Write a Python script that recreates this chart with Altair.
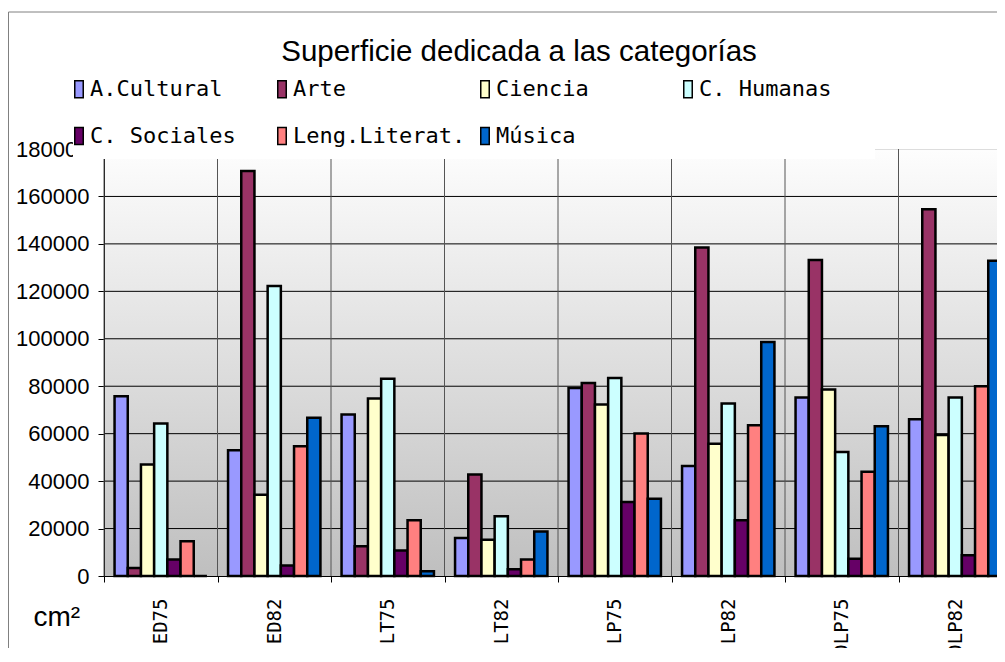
import altair as alt
import pandas as pd

# ---- data ----
groups = ["ED75", "ED82", "LT75", "LT82", "LP75", "LP82", "DLP75", "DLP82"]
series = ["A.Cultural", "Arte", "Ciencia", "C. Humanas", "C. Sociales", "Leng.Literat.", "Música"]
colors = ["#9999FF", "#993366", "#FFFFCC", "#CCFFFF", "#660066", "#FF8080", "#0066CC"]

a_cultural = [75800, 53000, 68100, 16000, 79300, 46400, 75200, 66100]
arte = [3400, 170700, 12500, 42800, 81400, 138500, 133200, 154600]
ciencia = [47000, 34300, 74800, 15300, 72300, 55800, 78600, 59400]
c_humanas = [64300, 122200, 83100, 25200, 83500, 72700, 52300, 75200]
c_sociales = [7000, 4400, 10800, 2800, 31200, 23500, 7300, 8700]
leng_literat = [14600, 54700, 23500, 7000, 60100, 63600, 43900, 80000]
musica = [0, 66700, 2000, 18800, 32600, 98600, 63100, 132900]

y_ticks = [0, 20000, 40000, 60000, 80000, 100000, 120000, 140000, 160000, 180000]
grid_values = [20000, 40000, 60000, 80000, 100000, 120000, 140000, 160000]

title_text = "Superficie dedicada a las categorías"
unit_text = "cm²"

values_by_series = [a_cultural, arte, ciencia, c_humanas, c_sociales, leng_literat, musica]
rows = []
for s, vals in zip(series, values_by_series):
    for g, v in zip(groups, vals):
        rows.append({"Grupo": g, "Serie": s, "Valor": v})
df = pd.DataFrame(rows)
df_groups = pd.DataFrame({"Grupo": groups})
df_grid = pd.DataFrame({"Valor": grid_values})
df_one = pd.DataFrame({"k": [0]})

SANS = "Liberation Sans"
MONO = "DejaVu Sans Mono"

W = 908
H = 427

x_scale = alt.Scale(domain=groups, paddingInner=0, paddingOuter=0)
y_scale = alt.Scale(domain=[0, 180000], nice=False)

frame = alt.Chart(df_one).mark_rect(filled=False, stroke="#808080", strokeWidth=1).encode(
    x=alt.value(-95.5), x2=alt.value(3000), y=alt.value(-137), y2=alt.value(3000)
)

bg = alt.Chart(df_one).mark_rect(
    fill=alt.LinearGradient(
        gradient="linear",
        stops=[alt.GradientStop(color="#fdfdfd", offset=0), alt.GradientStop(color="#bfbfbf", offset=1)],
        x1=0, x2=0, y1=0, y2=1,
    )
).encode(x=alt.value(1), x2=alt.value(W + 10), y=alt.value(1), y2=alt.value(H))

hgrid = alt.Chart(df_grid).mark_rule(color="black", strokeWidth=1).encode(
    y=alt.Y("Valor:Q", scale=y_scale)
)

vgrid = alt.Chart(df_groups).mark_rule(color="#555555", strokeWidth=1).encode(
    x=alt.X("Grupo:N", scale=x_scale, bandPosition=0),
    y=alt.value(0), y2=alt.value(H),
)

# white box behind the legend (the legend area overlaps the top of the plot)
legend_box = alt.Chart(df_one).mark_rect(fill="white").encode(
    x=alt.value(-31), x2=alt.value(771), y=alt.value(-80), y2=alt.value(10)
)

bars = alt.Chart(df).mark_bar(stroke="black", strokeWidth=2.5).encode(
    x=alt.X(
        "Grupo:N",
        sort=groups,
        scale=x_scale,
        axis=alt.Axis(
            title=None, tickBand="extent", labelAngle=270, labelAlign="right", labelBaseline="middle",
            labelFont=MONO, labelFontSize=19, labelColor="black", labelPadding=16,
            tickSize=6, tickColor="black", domainColor="black", grid=False, zindex=1,
        ),
    ),
    xOffset=alt.XOffset("Serie:N", sort=series, scale=alt.Scale(domain=series, paddingInner=0, paddingOuter=0.8)),
    y=alt.Y(
        "Valor:Q",
        scale=y_scale,
        axis=alt.Axis(
            values=y_ticks, format="d", labelFont=SANS, labelFontSize=22, labelColor="black",
            labelPadding=9, tickSize=6, tickColor="black", domainColor="black", grid=False, zindex=0,
            title=unit_text, titleAngle=0, titleFont=SANS, titleFontSize=28, titleFontWeight="normal",
            titleColor="black", titleX=-71, titleY=476, titleAlign="left", titleBaseline="alphabetic",
        ),
    ),
    color=alt.Color(
        "Serie:N",
        sort=series,
        scale=alt.Scale(domain=series, range=colors),
        legend=alt.Legend(
            title=None, orient="none", legendX=-36, legendY=-71, direction="horizontal",
            columns=4, gridAlign="all", columnPadding=8, rowPadding=23,
            symbolType="M-1,-2H1V2H-1Z", symbolSize=72, symbolStrokeColor="black",
            symbolStrokeWidth=1.5, symbolOpacity=1,
            labelFont=MONO, labelFontSize=22, labelColor="black", labelOffset=0, labelLimit=400,
            padding=0, zindex=2,
        ),
    ),
)

chart = alt.layer(frame, bg, hgrid, vgrid, legend_box, bars).properties(
    width=W,
    height=H,
    title=alt.TitleParams(
        title_text, font=SANS, fontSize=29.5, fontWeight="normal", color="black",
        anchor="middle", dx=-39, dy=60,
    ),
    autosize=alt.AutoSizeParams(type="none"),
    padding={"left": 96, "top": 141, "right": -15, "bottom": 72},
).configure_view(stroke="#808080", strokeWidth=1).configure(background="white")

chart.save("out.html", embed_options={"renderer": "svg", "actions": False})
